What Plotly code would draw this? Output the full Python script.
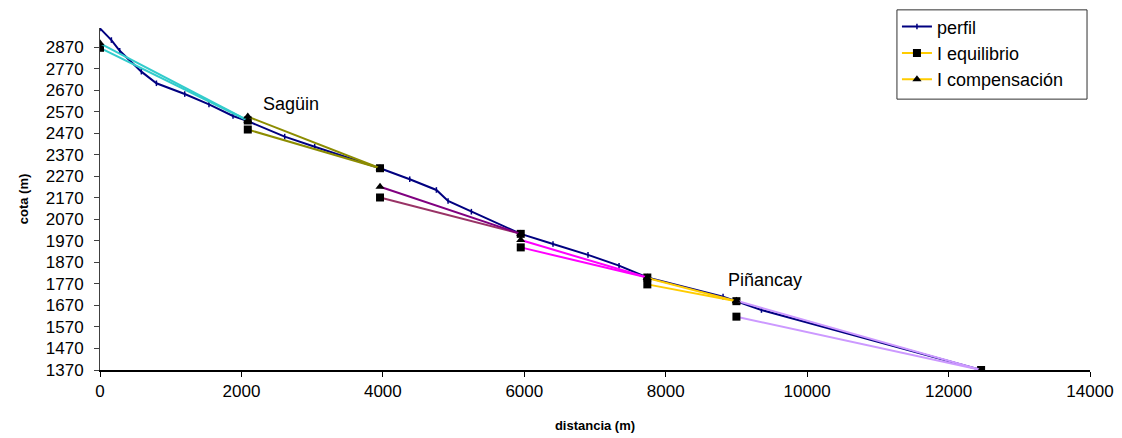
import plotly.graph_objects as go

# Longitudinal profile of the river (distance in m, elevation in m)
perfil_x = [0, 161, 279, 585, 798, 1198, 1541, 1881, 2090, 2612, 3036, 3960,
            4380, 4757, 4922, 5252, 5950, 6406, 6901, 7340, 7740, 8811, 9000,
            9354, 12460]
perfil_y = [2958, 2904, 2854, 2757, 2703, 2653, 2605, 2551, 2527, 2455, 2408, 2308,
            2257, 2207, 2156, 2106, 2003, 1956, 1905, 1855, 1800, 1711, 1690,
            1649, 1370]

# Reach limits along the profile
tramo_x = [[0, 2090], [2090, 3960], [3960, 5950], [5950, 7740], [7740, 9000], [9000, 12460]]
# Equilibrium slope lines (start / end elevation per reach)
equilibrio_y = [[2868, 2530], [2488, 2308], [2172, 2003], [1940, 1800], [1768, 1690], [1618, 1370]]
# Compensation slope lines (start / end elevation per reach)
compensacion_y = [[2889, 2530], [2548, 2308], [2222, 2003], [1974, 1800], [1798, 1690], [1692, 1370]]

color_eq = ["#33CCCC", "#8C8C00", "#993366", "#FF00FF", "#FFCC00", "#CC99FF"]
color_comp = ["#33CCCC", "#8C8C00", "#800080", "#FF00FF", "#FFCC00", "#CC99FF"]
legend_reach = 4

y_ticks = list(range(1370, 2871, 100))
x_ticks = list(range(0, 14001, 2000))
x_labels = [str(v) for v in x_ticks]

fig = go.Figure()

fig.add_trace(go.Scatter(
    x=perfil_x, y=perfil_y, mode="lines+markers", name="perfil",
    line=dict(color="#000080", width=2),
    marker=dict(symbol="line-ns", size=4, line=dict(color="#000080", width=1.5)),
    legendrank=1,
))

for i, xs in enumerate(tramo_x):
    fig.add_trace(go.Scatter(
        x=xs, y=equilibrio_y[i], mode="lines+markers", name="I equilibrio",
        line=dict(color=color_eq[i], width=2),
        marker=dict(symbol="square", size=8, color="black"),
        showlegend=(i == legend_reach), legendrank=2,
    ))
    fig.add_trace(go.Scatter(
        x=xs, y=compensacion_y[i], mode="lines+markers", name="I compensación",
        line=dict(color=color_comp[i], width=2),
        marker=dict(symbol="triangle-up", size=8, color="black"),
        showlegend=(i == legend_reach), legendrank=3,
    ))

font = "Liberation Sans, Arial, sans-serif"
fig.add_annotation(x=2707, y=2607, text="Sagüin", showarrow=False,
                   font=dict(family=font, size=18, color="black"))
fig.add_annotation(x=9400, y=1788, text="Piñancay", showarrow=False,
                   font=dict(family=font, size=18, color="black"))

# Frame around the legend entries
fig.add_shape(type="rect", xref="paper", yref="paper",
              x0=0.805, x1=0.997, y0=0.792, y1=1.053,
              line=dict(color="#303030", width=1), fillcolor="white", layer="below")

fig.update_layout(
    width=1122, height=438,
    margin=dict(l=100, r=32, t=28, b=68, autoexpand=False),
    paper_bgcolor="white", plot_bgcolor="white",
    font=dict(family=font, size=17, color="black"),
    legend=dict(
        x=0.805, y=0.981, xanchor="left", yanchor="top",
        xref="paper", yref="container",
        borderwidth=0, bgcolor="rgba(0,0,0,0)",
        font=dict(size=18), tracegroupgap=0, itemwidth=30,
    ),
    xaxis=dict(
        range=[0, 14000], tickvals=x_ticks, ticktext=x_labels,
        ticks="outside", ticklen=5,
        tickcolor="black", showline=True, linecolor="black", linewidth=2,
        showgrid=False, zeroline=False,
        title=dict(text="<b>distancia (m)</b>", font=dict(size=13), standoff=20),
    ),
    yaxis=dict(
        range=[1370, 2960], tickvals=y_ticks, ticks="outside", ticklen=5,
        tickcolor="#404040", showline=True, linecolor="#404040", linewidth=1,
        showgrid=False, zeroline=False, ticklabelstandoff=7,
        title=dict(text="<b>cota (m)</b>", font=dict(size=13), standoff=14),
    ),
)

fig.write_html("out.html")
